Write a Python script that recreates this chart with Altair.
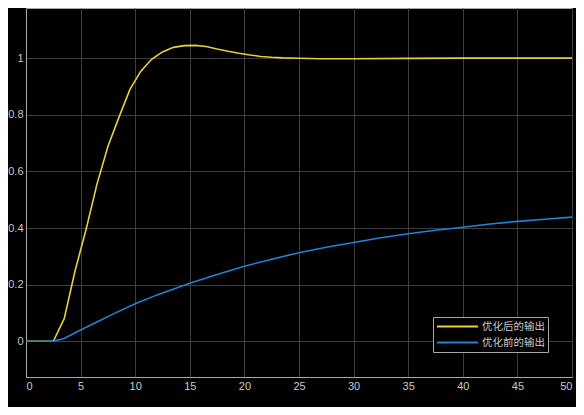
import altair as alt
import pandas as pd

# 优化后的输出 (optimized response)
t_opt = [0, 1, 2, 2.5, 3.5, 4.5, 5.5, 6.5, 7.5, 8.5, 9.5, 10.5, 11.5, 12.5, 13.5, 14.5,
         15.5, 16.5, 17.5, 18.5, 19.5, 20.5, 21.5, 22.5, 23.5, 25, 27, 30, 35, 40, 45, 50]
y_opt = [0, 0, 0, 0, 0.08, 0.25, 0.395, 0.555, 0.688, 0.79, 0.888, 0.953, 0.996, 1.022, 1.038, 1.044,
         1.045, 1.041, 1.032, 1.024, 1.017, 1.011, 1.006, 1.003, 1.001, 0.9995, 0.998, 0.998, 0.999, 1.0, 1.0, 1.0]

# 优化前的输出 (original response)
t_pre = [0, 1, 2, 2.5, 3.5, 5, 6.5, 8, 10, 12, 15, 17.5, 20, 22.5, 25, 27.5, 30, 32.5, 35,
         37.5, 40, 42.5, 45, 47.5, 50]
y_pre = [0, 0, 0, 0, 0.01, 0.04, 0.068, 0.097, 0.133, 0.164, 0.205, 0.236, 0.265, 0.29, 0.313,
         0.332, 0.349, 0.366, 0.38, 0.392, 0.403, 0.414, 0.4235, 0.431, 0.4386]

series_names = ["优化后的输出", "优化前的输出"]
series_colors = ["#e8cf3c", "#1f84d4"]
x_ticks = [0, 5, 10, 15, 20, 25, 30, 35, 40, 45, 50]
y_ticks = [0, 0.2, 0.4, 0.6, 0.8, 1]

df = pd.concat([
    pd.DataFrame({"t": t_opt, "y": y_opt, "s": series_names[0], "o": range(len(t_opt))}),
    pd.DataFrame({"t": t_pre, "y": y_pre, "s": series_names[1], "o": range(len(t_pre))}),
])

grid_col = "#3c3c3c"
frame_col = "#a8a8a8"
label_col = "#c8c8c8"

chart = alt.Chart(df).mark_line(strokeWidth=1.6, clip=True).encode(
    x=alt.X("t:Q", scale=alt.Scale(domain=[0, 50], nice=False),
            axis=alt.Axis(values=x_ticks, title=None, format="d")),
    y=alt.Y("y:Q", scale=alt.Scale(domain=[-0.126, 1.177], nice=False, zero=False),
            axis=alt.Axis(values=y_ticks, title=None, format="~g")),
    color=alt.Color("s:N", scale=alt.Scale(domain=series_names, range=series_colors),
                    legend=alt.Legend(title=None, orient="none", legendX=407, legendY=309,
                                      symbolType="stroke", symbolSize=1681, symbolStrokeWidth=2,
                                      clipHeight=13,
                                      labelFont="Noto Sans CJK SC", labelFontSize=10.5,
                                      labelColor=label_col, labelOffset=3,
                                      fillColor="#000000", strokeColor=frame_col,
                                      padding=3, rowPadding=3)),
    order="o:Q",
).properties(
    width=546, height=369,
    background="#000000",
    padding={"left": 18, "top": 0, "right": 4, "bottom": 30},
    autosize=alt.AutoSizeParams(type="none"),
).configure_view(
    stroke=frame_col, fill="#000000", strokeWidth=1
).configure_axis(
    grid=True, gridColor=grid_col, gridWidth=1,
    domainColor=frame_col, tickSize=0, ticks=False,
    labelColor=label_col, labelFont="Liberation Sans", labelFontSize=11,
    labelPadding=3,
)

chart.save("out.html", embed_options={"renderer": "svg", "actions": False})
